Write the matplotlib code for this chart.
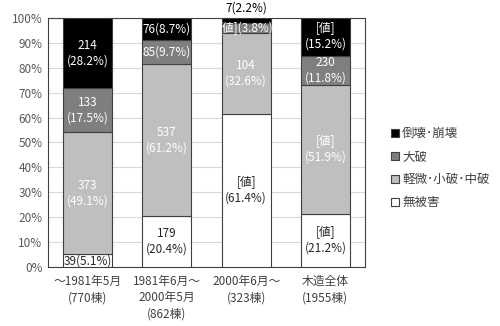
import matplotlib
matplotlib.use("Agg")
import matplotlib.pyplot as plt
from matplotlib.patches import Patch
import numpy as np

plt.rcParams['font.family'] = ['Noto Sans CJK JP', 'DejaVu Sans']

categories = ["～1981年5月\n(770棟)", "1981年6月～\n2000年5月\n(862棟)", "2000年6月～\n(323棟)", "木造全体\n(1955棟)"]
series = ["無被害", "軽微･小破･中破", "大破", "倒壊･崩壊"]
pct = {
    "無被害": [5.1, 20.4, 61.4, 21.2],
    "軽微･小破･中破": [49.1, 61.2, 32.6, 51.9],
    "大破": [17.5, 9.7, 3.8, 11.8],
    "倒壊･崩壊": [28.2, 8.7, 2.2, 15.2],
}
counts = {
    "無被害": ["39", "179", "[値]", "[値]"],
    "軽微･小破･中破": ["373", "537", "104", "[値]"],
    "大破": ["133", "85", "[値]", "230"],
    "倒壊･崩壊": ["214", "76", "7", "[値]"],
}
colors = {"無被害": "#ffffff", "軽微･小破･中破": "#bfbfbf", "大破": "#7f7f7f", "倒壊･崩壊": "#000000"}
txtcol = {"無被害": "#262626", "軽微･小破･中破": "#ffffff", "大破": "#ffffff", "倒壊･崩壊": "#ffffff"}

fig = plt.figure(figsize=(5, 3.26), dpi=100)
ax = fig.add_axes([0.096, 0.181, 0.634, 0.764])
x = np.arange(len(categories))
bottom = np.zeros(len(categories))
fs = 8.5
for s in series:
    vals = np.array(pct[s])
    ax.bar(x, vals, 0.62, bottom=bottom, color=colors[s], edgecolor="#404040", linewidth=0.8, zorder=3)
    for i, v in enumerate(vals):
        c = bottom[i] + v / 2
        if v < 3:
            ax.text(x[i], 101.5, f"{counts[s][i]}({v:.1f}%)", ha="center", va="bottom", fontsize=fs, color="#000000", clip_on=False, zorder=5)
        elif v < 11:
            ax.text(x[i], c, f"{counts[s][i]}({v:.1f}%)", ha="center", va="center", fontsize=fs, color=txtcol[s], zorder=5)
        else:
            ax.text(x[i], c, f"{counts[s][i]}\n({v:.1f}%)", ha="center", va="center", fontsize=fs, color=txtcol[s], zorder=5, linespacing=1.25)
    bottom += vals

ax.set_xlim(-0.5, len(categories) - 0.5)
ax.set_ylim(0, 100)
ax.set_yticks(np.arange(0, 101, 10))
ax.set_yticklabels([f"{t}%" for t in range(0, 101, 10)], fontsize=fs, color="#595959")
ax.set_xticks(x)
ax.set_xticklabels(categories, fontsize=fs, color="#404040", linespacing=1.3)
ax.tick_params(length=0, pad=4)
ax.tick_params(axis="x", pad=6)
ax.grid(axis="y", color="#d9d9d9", linewidth=0.8, zorder=0)
for sp in ax.spines.values():
    sp.set_color("#404040")
    sp.set_linewidth(0.8)

handles = [Patch(facecolor=colors[s], edgecolor="#404040", linewidth=0.8) for s in series[::-1]]
fig.legend(handles, series[::-1], loc="upper left", bbox_to_anchor=(0.772, 0.625), frameon=False,
           fontsize=9, labelcolor="#404040", handlelength=0.6, handleheight=0.6, handletextpad=0.3,
           labelspacing=0.8, borderaxespad=0)
fig.savefig("out.png", dpi=100)
